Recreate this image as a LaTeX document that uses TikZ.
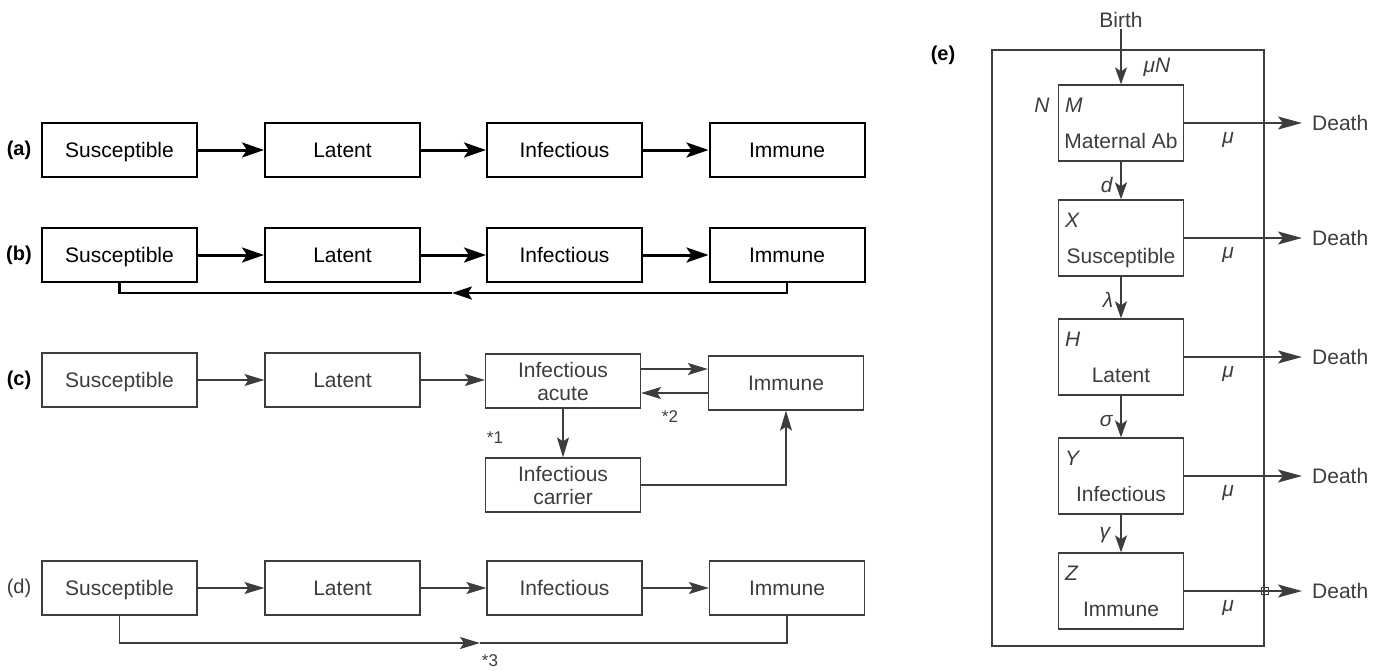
\documentclass[tikz,border=0pt]{standalone}
\usepackage{fontspec}
\setmainfont{Liberation Sans}
\usetikzlibrary{arrows.meta}
\definecolor{ink}{rgb}{0.24,0.24,0.24}
\newcommand\fs{\fontsize{21}{23}\selectfont}
\newcommand\fsm{\fontsize{17}{20}\selectfont}
\newcommand\fsl{\fontsize{20}{22}\selectfont}
\tikzset{
  one/.style={text height=18pt, text depth=3pt},
  boxa/.style={draw=black, line width=2pt, minimum width=155pt, minimum height=54pt, inner sep=0pt, font=\fs, text=black, one},
  boxc/.style={draw=ink, line width=1.2pt, minimum width=155pt, minimum height=54pt, inner sep=0pt, font=\fs, text=ink, align=center},
  arra/.style={draw=black, line width=3pt, -{Stealth[length=22pt,width=15pt,inset=5pt]}},
  rleft/.style={draw=black, line width=2.2pt, -{Stealth[length=20pt,width=13pt,inset=4pt]}},
  linea/.style={draw=black, line width=2.2pt},
  arrc/.style={draw=ink, line width=1.5pt, -{Stealth[length=20pt,width=12pt,inset=4pt]}},
  linec/.style={draw=ink, line width=1.5pt},
  tag/.style={font=\fsl\bfseries, text=black},
  tagd/.style={font=\fsl, text=ink},
  star/.style={font=\fsm, text=ink},
  boxe/.style={draw=ink, line width=1.3pt, minimum width=125pt, minimum height=76pt, inner sep=0pt},
  framee/.style={draw=ink, line width=1.3pt, minimum width=272pt, minimum height=596pt, inner sep=0pt},
  txte/.style={font=\fs, text=ink, inner sep=1pt},
  arre/.style={draw=ink, line width=1.8pt, -{Stealth[length=24pt,width=13pt,inset=5pt]}},
  arrv/.style={draw=ink, line width=1.8pt, -{Stealth[length=17pt,width=12pt,inset=4pt]}},
}
\begin{document}
\begin{tikzpicture}[x=1pt,y=-1pt]
\useasboundingbox (0,0) rectangle (1377,670);

% (a)
\node[tag] (la) at (19,150) {(a)};
\node[boxa] (a1) at (119.5,150) {Susceptible};
\node[boxa] (a2) at (342.5,150) {Latent};
\node[boxa] (a3) at (564.5,150) {Infectious};
\node[boxa] (a4) at (787,150) {Immune};
\draw[arra] (a1) -- (a2);
\draw[arra] (a2) -- (a3);
\draw[arra] (a3) -- (a4);

% (b)
\node[tag] (lb) at (19,255) {(b)};
\node[boxa] (b1) at (119.5,255) {Susceptible};
\node[boxa] (b2) at (342.5,255) {Latent};
\node[boxa] (b3) at (564.5,255) {Infectious};
\node[boxa] (b4) at (787,255) {Immune};
\draw[arra] (b1) -- (b2);
\draw[arra] (b2) -- (b3);
\draw[arra] (b3) -- (b4);
\coordinate (bmid) at (452,293);
\draw[linea] (bmid) -| (b1.south);
\draw[rleft] (b4.south) |- (bmid);

% (c)
\node[tag] (lc) at (19,380) {(c)};
\node[boxc, one] (c1) at (119.5,380) {Susceptible};
\node[boxc, one] (c2) at (342.5,380) {Latent};
\node[boxc] (c3) at (563,381) {Infectious\\acute};
\node[boxc, one] (c4) at (786,383) {Immune};
\node[boxc] (c5) at (563,485) {Infectious\\carrier};
\draw[arrc] (c1) -- (c2);
\draw[arrc] (c2) -- (c3.west |- c2);
\coordinate (chi) at ([yshift=12pt]c3.east);
\coordinate (clo) at ([yshift=-12pt]c3.east);
\draw[arrc] (chi) -- (chi -| c4.west);
\draw[arrc] (clo -| c4.west) -- (clo);
\draw[arrc] (c3) -- (c5);
\draw[arrc] (c5.east) -| (c4.south);
\node[star] (s1) at (495,438) {*1};
\node[star] (s2) at (670,417) {*2};

% (d)
\node[tagd] (ld) at (19,588) {(d)};
\node[boxc, one] (d1) at (119.5,588) {Susceptible};
\node[boxc, one] (d2) at (342.5,588) {Latent};
\node[boxc, one] (d3) at (564.5,588) {Infectious};
\node[boxc, one] (d4) at (787,588) {Immune};
\draw[arrc] (d1) -- (d2);
\draw[arrc] (d2) -- (d3);
\draw[arrc] (d3) -- (d4);
\coordinate (dmid) at (480,643);
\draw[linec] (dmid) -| (d4.south);
\draw[arrc] (d1.south) |- (dmid);
\node[star] (s3) at (490,661) {*3};

% (e)
\node[tag] (le) at (943,55) {(e)};
\node[framee] (frame) at (1128,348) {};
\node[boxe] (m) at (1121,123) {};
\node[boxe] (x) at (1121,238) {};
\node[boxe] (h) at (1121,357) {};
\node[boxe] (y) at (1121,476) {};
\node[boxe] (z) at (1121,591) {};
\foreach \b/\L/\T in {m/M/Maternal Ab, x/X/Susceptible, h/H/Latent, y/Y/Infectious, z/Z/Immune} {
  \node[txte, anchor=west, one] (\b-let) at ([xshift=6pt,yshift=18pt]\b.west) {\textit{\L}};
  \node[txte, one] (\b-name) at ([yshift=-18pt]\b.center) {\T};
}
\coordinate (dx) at (1302,0);
\foreach \b in {m,x,h,y,z} {
  \coordinate (\b-tip) at (\b.east -| dx);
  \draw[arre] (\b.east) -- (\b-tip);
  \node[txte, anchor=west] (\b-death) at ([xshift=9pt]\b-tip) {Death};
  \node[txte] (\b-mu) at ([xshift=44pt,yshift=-17pt]\b.east) {\textit{μ}};
}
\node[draw=ink, line width=0.8pt, minimum size=7pt, inner sep=0pt] (sq) at (z.east -| frame.east) {};
\node[txte] (birth) at (1121,20) {Birth};
\draw[arrv] (birth.south) -- (m.north);
\node[txte] (muN) at (1157,67) {\textit{μN}};
\node[txte, one] (Nlab) at (1042,105) {\textit{N}};
\draw[arrv] (m) -- node[txte, left=6pt, pos=0.62] (dlab) {\textit{d}} (x);
\draw[arrv] (x) -- node[txte, left=6pt, pos=0.55] (llab) {\textit{λ}} (h);
\draw[arrv] (h) -- node[txte, left=6pt, pos=0.6] (slab) {\textit{σ}} (y);
\draw[arrv] (y) -- node[txte, left=8pt, pos=0.55] (glab) {\textit{γ}} (z);
\end{tikzpicture}
\end{document}
